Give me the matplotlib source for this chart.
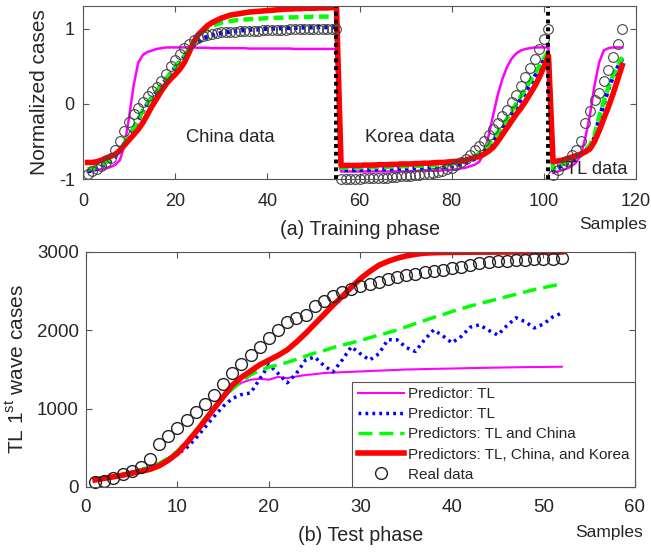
import numpy as np
import matplotlib
matplotlib.use("Agg")
import matplotlib.pyplot as plt

plt.rcParams["font.family"] = ["Liberation Sans", "DejaVu Sans"]
plt.rcParams["mathtext.fontset"] = "custom"
plt.rcParams["mathtext.rm"] = "Liberation Sans"
plt.rcParams["axes.unicode_minus"] = False

# ---- training phase (normalized), segments: China 1-55, Korea 56-101, TL 102-117
china_real = [-0.93, -0.90, -0.87, -0.83, -0.78, -0.72, -0.62, -0.50, -0.36, -0.24,
              -0.13, -0.05, 0.03, 0.10, 0.17, 0.23, 0.30, 0.40, 0.50, 0.58,
              0.66, 0.74, 0.80, 0.85, 0.88, 0.90, 0.92, 0.93, 0.94, 0.95,
              0.955, 0.96, 0.96, 0.965, 0.97, 0.97, 0.975, 0.975, 0.98, 0.98,
              0.98, 0.985, 0.985, 0.985, 0.99, 0.99, 0.99, 0.99, 0.99, 0.995,
              0.995, 0.995, 1.0, 1.0, 1.0]
china_mag = [-0.90, -0.89, -0.88, -0.87, -0.86, -0.84, -0.81, -0.75, -0.55, -0.18,
             0.25, 0.55, 0.65, 0.69, 0.71, 0.73, 0.74, 0.75, 0.75, 0.75,
             0.75, 0.75, 0.75, 0.75, 0.745, 0.745, 0.745, 0.74, 0.74, 0.74,
             0.74, 0.74, 0.74, 0.74, 0.74, 0.735, 0.735, 0.735, 0.735, 0.735,
             0.735, 0.735, 0.735, 0.735, 0.735, 0.73, 0.73, 0.73, 0.73, 0.73,
             0.73, 0.73, 0.73, 0.73, 0.73]
china_blue = [-0.90, -0.88, -0.86, -0.83, -0.79, -0.75, -0.70, -0.63, -0.53, -0.43,
              -0.33, -0.21, -0.10, 0.00, 0.08, 0.16, 0.24, 0.32, 0.40, 0.48,
              0.55, 0.63, 0.71, 0.78, 0.83, 0.87, 0.89, 0.91, 0.93, 0.94,
              0.95, 0.96, 0.97, 0.975, 0.98, 0.985, 0.99, 0.99, 0.995, 1.0,
              1.0, 1.005, 1.005, 1.01, 1.01, 1.01, 1.015, 1.015, 1.015, 1.02,
              1.02, 1.02, 1.02, 1.02, 1.02]
china_green = [-0.87, -0.86, -0.84, -0.81, -0.78, -0.74, -0.69, -0.61, -0.52, -0.42,
               -0.32, -0.20, -0.09, 0.01, 0.09, 0.17, 0.25, 0.33, 0.41, 0.49,
               0.56, 0.64, 0.73, 0.82, 0.90, 0.96, 1.01, 1.04, 1.06, 1.08,
               1.09, 1.10, 1.11, 1.115, 1.12, 1.125, 1.13, 1.13, 1.135, 1.14,
               1.14, 1.145, 1.145, 1.15, 1.15, 1.15, 1.155, 1.155, 1.155, 1.16,
               1.16, 1.16, 1.16, 1.16, 1.16]
china_red = [-0.78, -0.78, -0.77, -0.75, -0.72, -0.70, -0.67, -0.62, -0.55, -0.48,
             -0.41, -0.34, -0.25, -0.14, -0.03, 0.07, 0.17, 0.26, 0.33, 0.39,
             0.46, 0.55, 0.68, 0.82, 0.92, 0.98, 1.04, 1.08, 1.11, 1.14,
             1.16, 1.18, 1.19, 1.20, 1.21, 1.22, 1.225, 1.23, 1.235, 1.24,
             1.245, 1.25, 1.255, 1.26, 1.26, 1.265, 1.265, 1.27, 1.27, 1.27,
             1.275, 1.275, 1.275, 1.28, 1.28]

korea_real = [-1.0, -1.0, -1.0, -1.0, -0.995, -0.99, -0.99, -0.99, -0.985, -0.98,
              -0.98, -0.975, -0.97, -0.965, -0.96, -0.955, -0.95, -0.94, -0.935, -0.93,
              -0.92, -0.91, -0.89, -0.87, -0.85, -0.82, -0.78, -0.74, -0.68, -0.62,
              -0.56, -0.50, -0.42, -0.34, -0.25, -0.16, -0.08, 0.02, 0.12, 0.24,
              0.36, 0.48, 0.60, 0.73, 0.86, 1.0]
korea_mag = [-0.90, -0.90, -0.90, -0.90, -0.90, -0.90, -0.90, -0.90, -0.90, -0.90,
             -0.90, -0.90, -0.90, -0.90, -0.90, -0.895, -0.895, -0.89, -0.89, -0.89,
             -0.89, -0.89, -0.885, -0.88, -0.88, -0.87, -0.86, -0.85, -0.83, -0.81,
             -0.77, -0.66, -0.43, -0.15, 0.12, 0.33, 0.49, 0.60, 0.67, 0.71,
             0.73, 0.74, 0.75, 0.75, 0.75, 0.75]
korea_blue = [-0.88, -0.88, -0.88, -0.88, -0.875, -0.875, -0.875, -0.87, -0.87, -0.87,
              -0.87, -0.865, -0.865, -0.86, -0.86, -0.86, -0.855, -0.855, -0.85, -0.85,
              -0.845, -0.84, -0.84, -0.835, -0.83, -0.82, -0.80, -0.78, -0.76, -0.73,
              -0.70, -0.65, -0.58, -0.50, -0.42, -0.33, -0.24, -0.14, -0.04, 0.06,
              0.16, 0.26, 0.36, 0.47, 0.58, 0.68]
korea_green = [-0.85, -0.85, -0.85, -0.85, -0.845, -0.845, -0.845, -0.84, -0.84, -0.84,
               -0.84, -0.835, -0.835, -0.83, -0.83, -0.83, -0.825, -0.825, -0.82, -0.82,
               -0.815, -0.81, -0.81, -0.805, -0.80, -0.79, -0.77, -0.75, -0.73, -0.70,
               -0.66, -0.61, -0.54, -0.46, -0.38, -0.29, -0.20, -0.10, 0.00, 0.10,
               0.20, 0.30, 0.40, 0.50, 0.60, 0.70]
korea_red = [-0.82, -0.82, -0.82, -0.82, -0.82, -0.815, -0.815, -0.815, -0.81, -0.81,
             -0.81, -0.805, -0.805, -0.80, -0.80, -0.80, -0.795, -0.795, -0.79, -0.79,
             -0.785, -0.78, -0.78, -0.775, -0.77, -0.765, -0.76, -0.75, -0.73, -0.715,
             -0.70, -0.67, -0.63, -0.58, -0.50, -0.41, -0.32, -0.23, -0.14, -0.06,
             0.03, 0.13, 0.23, 0.35, 0.49, 0.64]

tl_real = [-0.95, -0.88, -0.82, -0.76, -0.68, -0.62, -0.50, -0.25, -0.10, 0.05,
           0.15, 0.30, 0.45, 0.62, 0.80, 1.0]
tl_mag = [-0.92, -0.90, -0.88, -0.86, -0.83, -0.78, -0.68, -0.45, -0.15, 0.25,
          0.55, 0.71, 0.74, 0.75, 0.75, 0.75]
tl_blue = [-0.88, -0.85, -0.82, -0.79, -0.76, -0.72, -0.68, -0.63, -0.58, -0.45,
           -0.20, 0.00, 0.20, 0.36, 0.48, 0.60]
tl_green = [-0.86, -0.83, -0.80, -0.77, -0.74, -0.70, -0.66, -0.61, -0.55, -0.42,
            -0.17, 0.03, 0.22, 0.38, 0.50, 0.62]
tl_red = [-0.77, -0.76, -0.75, -0.73, -0.71, -0.69, -0.67, -0.64, -0.60, -0.50,
          -0.36, -0.20, -0.04, 0.13, 0.32, 0.51]

# ---- test phase (TL 1st wave cases), samples 1-52
test_real = [60, 80, 120, 160, 210, 260, 360, 550, 650, 750,
             860, 960, 1060, 1180, 1320, 1460, 1570, 1690, 1790, 1900,
             2010, 2100, 2160, 2200, 2310, 2380, 2440, 2490, 2530, 2560,
             2590, 2620, 2650, 2680, 2700, 2720, 2740, 2760, 2770, 2790,
             2810, 2840, 2860, 2870, 2880, 2890, 2895, 2900, 2905, 2910,
             2915, 2920]
test_red = [90, 110, 130, 150, 175, 200, 225, 270, 340, 430,
            560, 700, 850, 1000, 1150, 1300, 1400, 1480, 1560, 1620,
            1680, 1750, 1850, 1960, 2080, 2200, 2320, 2430, 2550, 2660,
            2750, 2830, 2880, 2920, 2950, 2970, 2985, 2990, 2993, 2995,
            2996, 2997, 2998, 2998, 2999, 2999, 3000, 3000, 3000, 3000,
            3000, 3000]
test_green = [100, 120, 140, 160, 190, 220, 250, 300, 370, 460,
              580, 720, 870, 1010, 1140, 1250, 1350, 1430, 1490, 1530,
              1560, 1590, 1630, 1670, 1710, 1740, 1780, 1810, 1840, 1870,
              1905, 1940, 1970, 2005, 2045, 2085, 2125, 2165, 2200, 2240,
              2275, 2310, 2340, 2370, 2400, 2430, 2460, 2490, 2520, 2545,
              2570, 2590]
test_blue = [110, 120, 140, 160, 190, 220, 260, 300, 360, 420,
             500, 620, 760, 900, 1030, 1130, 1180, 1200, 1380, 1560,
             1450, 1330, 1450, 1620, 1660, 1550, 1470, 1620, 1790, 1700,
             1620, 1700, 1880, 1880, 1780, 1730, 1880, 2005, 1930, 1840,
             1920, 2040, 2070, 2000, 1940, 2060, 2160, 2110, 2030, 2080,
             2170, 2220]
test_mag = [100, 115, 135, 160, 190, 220, 250, 300, 370, 460,
            580, 720, 860, 1000, 1130, 1250, 1330, 1370, 1380, 1370,
            1405, 1390, 1410, 1430, 1440, 1455, 1460, 1465, 1470, 1475,
            1480, 1485, 1490, 1495, 1500, 1502, 1505, 1508, 1510, 1512,
            1515, 1518, 1520, 1522, 1524, 1526, 1528, 1530, 1531, 1532,
            1534, 1535]

labels = ["Predictor: TL", "Predictor: TL", "Predictors: TL and China",
          "Predictors: TL, China, and Korea", "Real data"]
segment_ends = [55, 101]

MAG, BLUE, GREEN, RED = "#ff00ff", "#0000ff", "#00ff00", "#ff0000"
AXC = "#555555"
TXT = "#262626"


def style_axes(ax, fs, xpad, ypad):
    for s in ax.spines.values():
        s.set_color(AXC)
        s.set_linewidth(0.8)
    ax.tick_params(direction="in", top=True, right=True, length=4,
                   color=AXC, labelcolor=TXT, labelsize=fs)
    ax.tick_params(axis="x", pad=xpad)
    ax.tick_params(axis="y", pad=ypad)


fig = plt.figure(figsize=(6.51, 5.52), dpi=100)

# ---------------- (a) training phase
ax1 = fig.add_axes([0.1275, 0.6757, 0.8495, 0.3133])
train_real = china_real + korea_real + tl_real
train_mag = china_mag + korea_mag + tl_mag
train_blue = china_blue + korea_blue + tl_blue
train_green = china_green + korea_green + tl_green
train_red = china_red + korea_red + tl_red
xs = np.arange(1, len(train_real) + 1)

ax1.plot(xs, train_mag, color=MAG, lw=1.8)
ax1.plot(xs, train_blue, color=BLUE, lw=3.2, ls=(0, (0.8, 0.9)))
ax1.plot(xs, train_green, color=GREEN, lw=3.2, ls=(0, (2.2, 1.2)))
ax1.plot(xs, train_red, color=RED, lw=4)
ax1.plot(xs, train_real, "o", mfc="none", mec="#444444", mew=0.8, ms=7,
         clip_on=False)
for xe in segment_ends:
    ax1.axvline(xe, color="k", ls=(0, (1, 1)), lw=2.8)

ax1.set_xlim(0, 120)
ax1.set_ylim(-1, 1.3)
ax1.set_xticks(np.arange(0, 121, 20))
ax1.set_yticks([-1, 0, 1])
style_axes(ax1, 13, 10, 6)
ax1.set_ylabel("Normalized cases", fontsize=15, color=TXT)
ax1.yaxis.set_label_coords(-0.062, 0.5)
ax1.set_xlabel("(a) Training phase", fontsize=14.2, color=TXT)
ax1.xaxis.set_label_coords(0.5, -0.235)
ax1.text(32, -0.45, "China data", fontsize=13.2, color=TXT, ha="center", va="center")
ax1.text(71, -0.45, "Korea data", fontsize=13.2, color=TXT, ha="center", va="center")
ax1.text(111.5, -0.87, "TL data", fontsize=13.2, color=TXT, ha="center", va="center")
fig.text(0.994, 0.594, "Samples", fontsize=12.5, color=TXT, ha="right", va="center")

# ---------------- (b) test phase
ax2 = fig.add_axes([0.132, 0.1178, 0.8434, 0.4257])
xt = np.arange(1, len(test_real) + 1)
ax2.plot(xt, test_mag, color=MAG, lw=1.5, label=labels[0])
ax2.plot(xt, test_blue, color=BLUE, lw=2.5, ls=(0, (0.8, 1.2)), label=labels[1])
ax2.plot(xt, test_green, color=GREEN, lw=2.5, ls=(0, (4, 2)), label=labels[2])
ax2.plot(xt, test_red, color=RED, lw=4, label=labels[3])
ax2.plot(xt, test_real, "o", mfc="none", mec="#222222", mew=1.0, ms=8.5,
         label=labels[4], clip_on=False)

ax2.set_xlim(0, 60)
ax2.set_ylim(0, 3000)
ax2.set_xticks(np.arange(0, 61, 10))
ax2.set_yticks([0, 1000, 2000, 3000])
style_axes(ax2, 13.5, 9, 5)
ax2.set_ylabel("TL 1$^{\\mathrm{st}}$ wave cases", fontsize=15, color=TXT)
ax2.yaxis.set_label_coords(-0.105, 0.5)
ax2.set_xlabel("(b) Test phase", fontsize=14.2, color=TXT)
ax2.xaxis.set_label_coords(0.5, -0.165)
fig.text(0.988, 0.036, "Samples", fontsize=12.5, color=TXT, ha="right", va="center")

leg = ax2.legend(loc="lower right", bbox_to_anchor=(1.0, 0.0), borderaxespad=0,
                 fontsize=11, handlelength=3.0, handletextpad=0.3,
                 labelspacing=0.4, borderpad=0.35, fancybox=False,
                 framealpha=1, edgecolor=AXC)
leg.get_frame().set_linewidth(0.8)
for t in leg.get_texts():
    t.set_color(TXT)

fig.savefig("out.png", dpi=100)
